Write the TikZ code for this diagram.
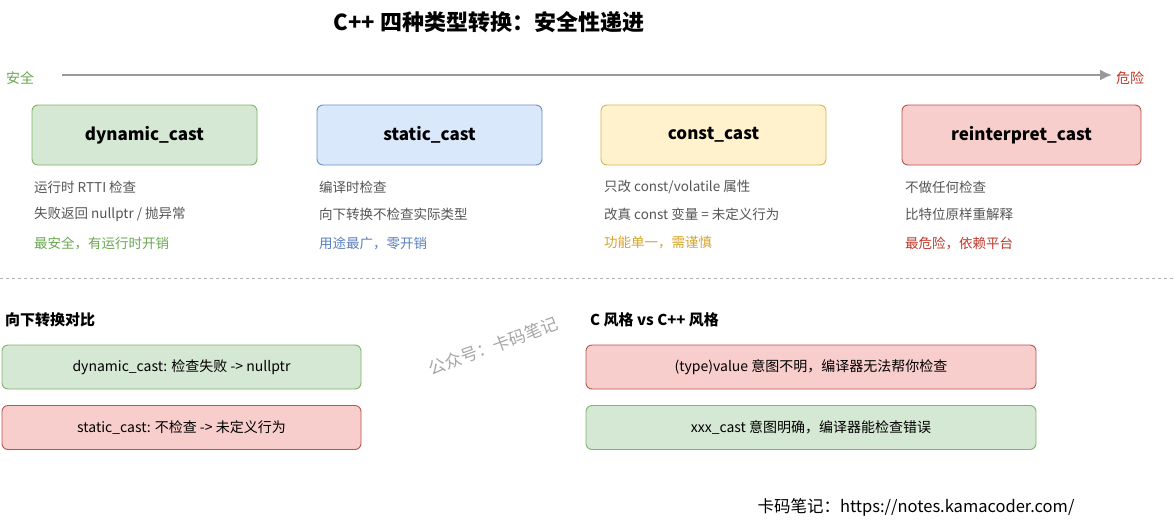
\documentclass[tikz,border=0pt]{standalone}
\usepackage{fontspec}
\usetikzlibrary{arrows.meta}
\setmainfont{Noto Sans CJK SC}
\begin{document}
\begin{tikzpicture}[x=1pt,y=-1pt,
 box/.style={draw,rounded corners=6pt,line width=0.9pt},
 gbox/.style={box,fill=gF,draw=gD},bbox/.style={box,fill=bF,draw=bD},
 ybox/.style={box,fill=yF,draw=yD},rbox/.style={box,fill=rF,draw=rD},
 big/.style={font=\fontsize{17}{20}\selectfont\bfseries},
 desc/.style={anchor=west,font=\fontsize{13.5}{16}\selectfont,text=txt,inner sep=0},
 small/.style={font=\fontsize{14}{17}\selectfont},
 head/.style={anchor=west,font=\fontsize{15}{18}\selectfont\bfseries,inner sep=0}]
\definecolor{gF}{HTML}{D5E8D4}\definecolor{gD}{HTML}{82B366}
\definecolor{bF}{HTML}{DAE8FC}\definecolor{bD}{HTML}{6C8EBF}
\definecolor{yF}{HTML}{FFF2CC}\definecolor{yD}{HTML}{D6B656}
\definecolor{rF}{HTML}{F8CECC}\definecolor{rD}{HTML}{B85450}
\definecolor{txt}{HTML}{555555}
\definecolor{gT}{HTML}{6AA84F}\definecolor{bT}{HTML}{5B80BF}
\definecolor{yT}{HTML}{D6A52A}\definecolor{rT}{HTML}{C0392B}
\useasboundingbox[fill=white] (0,0) rectangle (1175,520);
\node[font=\fontsize{22}{26}\selectfont\bfseries] (title) at (489,22) {C++ 四种类型转换：安全性递进};
\node[text=gT,font=\fontsize{14}{17}\selectfont] (safe) at (20,78) {安全};
\node[text=rT,font=\fontsize{14}{17}\selectfont] (danger) at (1130,78) {危险};
\coordinate (a1) at (62,75); \coordinate (a2) at (1112,75);
\draw[line width=2pt,draw=gray!80,-{Latex[length=12pt,width=11pt]}] (a1) -- (a2);
\node[gbox,big,minimum width=225pt,minimum height=60pt] (dc) at (144.5,135) {dynamic\_cast};
\node[bbox,big,minimum width=225pt,minimum height=60pt] (sc) at (429.5,135) {static\_cast};
\node[ybox,big,minimum width=225pt,minimum height=60pt] (cc) at (713.5,135) {const\_cast};
\node[rbox,big,minimum width=239pt,minimum height=60pt] (rc) at (1021.5,135) {reinterpret\_cast};
\node[desc] (d1) at (34,187) {运行时 RTTI 检查};
\node[desc] (d2) at (34,214) {失败返回 nullptr / 抛异常};
\node[desc,text=gT] (d3) at (34,243) {最安全，有运行时开销};
\node[desc] (s1) at (319,187) {编译时检查};
\node[desc] (s2) at (319,214) {向下转换不检查实际类型};
\node[desc,text=bT] (s3) at (319,243) {用途最广，零开销};
\node[desc] (c1) at (604,187) {只改 const/volatile 属性};
\node[desc] (c2) at (604,214) {改真 const 变量 = 未定义行为};
\node[desc,text=yT] (c3) at (604,243) {功能单一，需谨慎};
\node[desc] (r1) at (905,187) {不做任何检查};
\node[desc] (r2) at (905,214) {比特位原样重解释};
\node[desc,text=rT] (r3) at (905,243) {最危险，依赖平台};
\coordinate (l1) at (0,278); \coordinate (l2) at (1175,278);
\draw[dashed,draw=gray!60,line width=1pt] (l1) -- (l2);
\node[head] (h1) at (5,320) {向下转换对比};
\node[head] (h2) at (590,320) {C 风格 vs C++ 风格};
\node[gbox,small,minimum width=359pt,minimum height=44pt] (b1) at (181.5,367) {dynamic\_cast: 检查失败 -> nullptr};
\node[rbox,small,minimum width=359pt,minimum height=44pt] (b2) at (181.5,427.5) {static\_cast: 不检查 -> 未定义行为};
\node[rbox,small,minimum width=450pt,minimum height=44pt] (b3) at (811,367) {(type)value 意图不明，编译器无法帮你检查};
\node[gbox,small,minimum width=450pt,minimum height=44pt] (b4) at (811,427.5) {xxx\_cast 意图明确，编译器能检查错误};
\node[rotate=20,text=gray!70,font=\fontsize{17}{20}\selectfont] (wm) at (493,346) {公众号：卡码笔记};
\node[font=\fontsize{16.5}{19}\selectfont] (ft) at (916,507) {卡码笔记：https://notes.kamacoder.com/};
\end{tikzpicture}
\end{document}
